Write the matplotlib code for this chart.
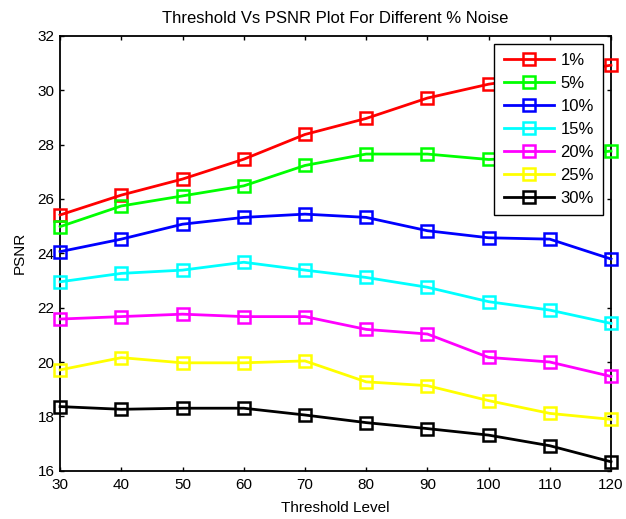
import matplotlib
matplotlib.use("Agg")
import matplotlib.pyplot as plt

plt.rcParams['font.family'] = ['Liberation Sans', 'DejaVu Sans']

threshold = [30, 40, 50, 60, 70, 80, 90, 100, 110, 120]
labels = ['1%', '5%', '10%', '15%', '20%', '25%', '30%']
colors = ['#ff0000', '#00ff00', '#0000ff', '#00ffff', '#ff00ff', '#ffff00', '#000000']

psnr_1 = [25.41, 26.14, 26.73, 27.46, 28.37, 28.96, 29.71, 30.22, 30.55, 30.92]
psnr_5 = [24.98, 25.74, 26.11, 26.48, 27.23, 27.65, 27.65, 27.45, 27.55, 27.76]
psnr_10 = [24.06, 24.52, 25.07, 25.32, 25.44, 25.32, 24.83, 24.57, 24.52, 23.79]
psnr_15 = [22.95, 23.26, 23.38, 23.67, 23.38, 23.11, 22.75, 22.22, 21.91, 21.42]
psnr_20 = [21.58, 21.67, 21.76, 21.67, 21.67, 21.20, 21.03, 20.17, 20.00, 19.47]
psnr_25 = [19.71, 20.16, 19.97, 19.97, 20.04, 19.27, 19.13, 18.58, 18.11, 17.89]
psnr_30 = [18.36, 18.26, 18.30, 18.30, 18.05, 17.77, 17.55, 17.31, 16.92, 16.33]

series = [psnr_1, psnr_5, psnr_10, psnr_15, psnr_20, psnr_25, psnr_30]

fig = plt.figure(figsize=(6.26, 5.19), dpi=100)
ax = fig.add_axes([0.096, 0.093, 0.880, 0.838])

for vals, lab, c in zip(series, labels, colors):
    ax.plot(threshold, vals, color=c, linewidth=2, marker='s', markersize=8,
            markerfacecolor='none', markeredgecolor=c, markeredgewidth=1.8,
            label=lab, clip_on=False, zorder=3)

ax.set_xlim(30, 120)
ax.set_ylim(16, 32)
ax.set_xticks(threshold)
ax.set_yticks(range(16, 33, 2))
ax.tick_params(direction='in', top=True, right=True, labelsize=11, length=3, width=1)
ax.tick_params(axis='y', pad=4)
ax.tick_params(axis='x', pad=5)
for s in ax.spines.values():
    s.set_linewidth(1.3)

ax.set_xlabel('Threshold Level', fontsize=11, labelpad=7)
ax.set_ylabel('PSNR', fontsize=11, labelpad=8)
ax.set_title('Threshold Vs PSNR Plot For Different % Noise', fontsize=12, pad=9)

leg = ax.legend(loc='upper right', bbox_to_anchor=(0.9855, 0.981), fontsize=12,
                frameon=True, fancybox=False, edgecolor='black', framealpha=1,
                handlelength=3.0, labelspacing=0.48, borderpad=0.55, handletextpad=0.4,
                borderaxespad=0)
leg.get_frame().set_linewidth(1.0)
leg.set_zorder(5)

fig.savefig('out.png', dpi=100)
